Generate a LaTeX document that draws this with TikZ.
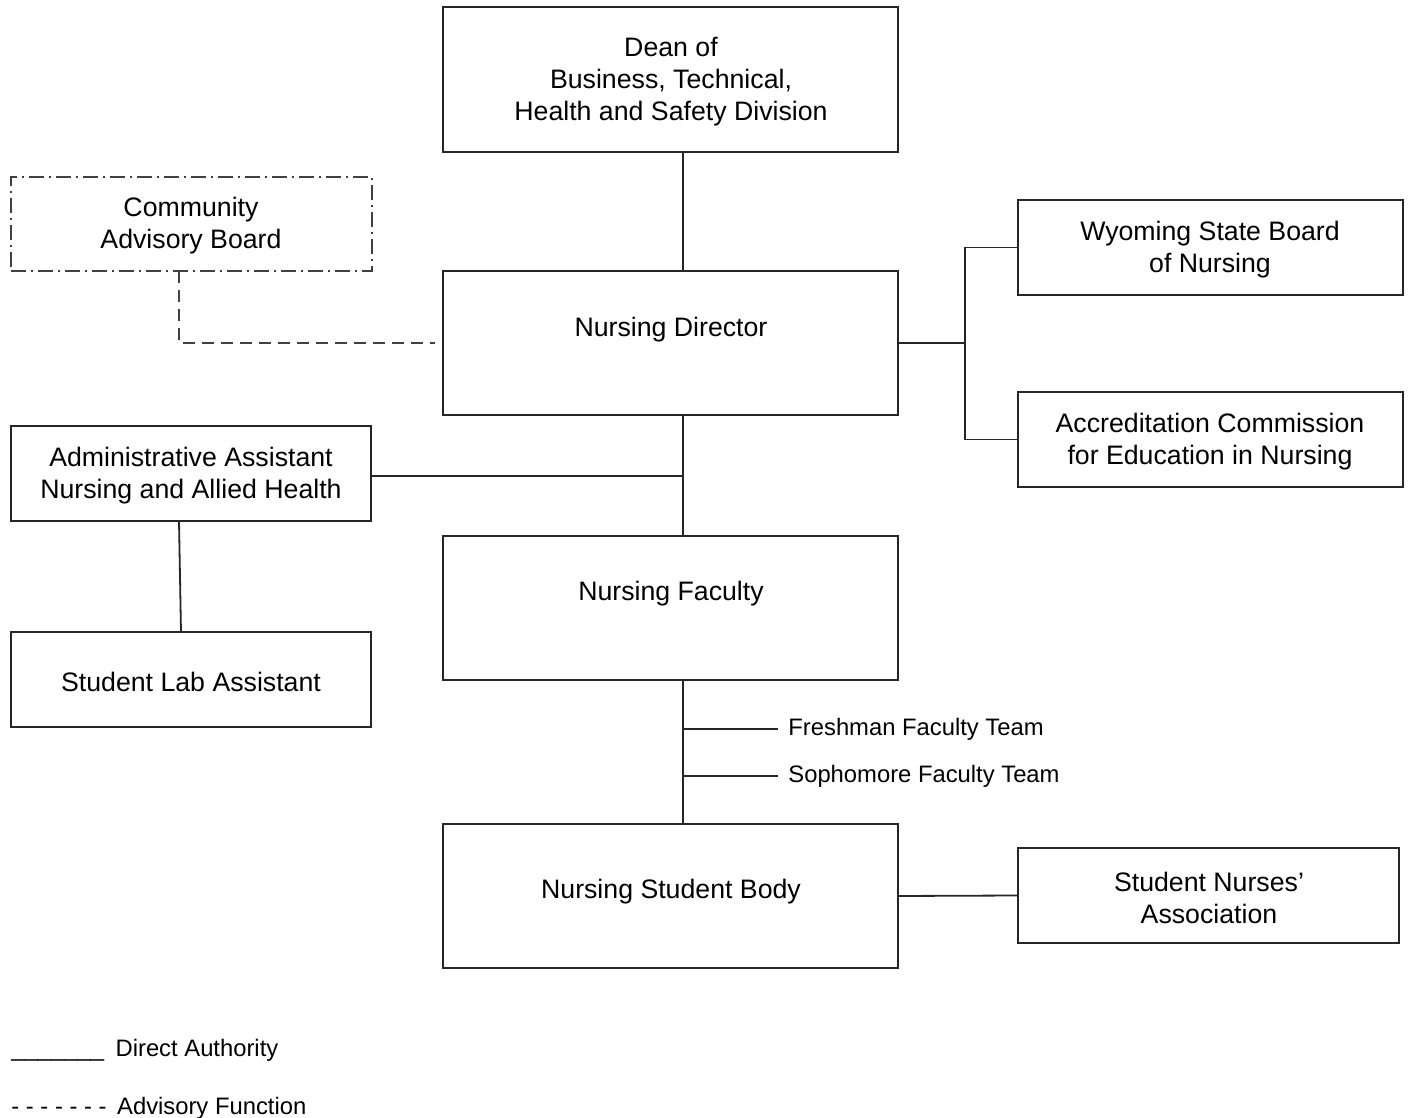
\documentclass[tikz,border=0pt]{standalone}
\usepackage{fontspec}
\setmainfont{Liberation Sans}
\begin{document}
\begin{tikzpicture}[x=0.5pt,y=-0.5pt,
  box/.style={draw=black!85, line width=0.8pt, inner sep=0pt, outer sep=0pt},
  txt/.style={align=center, inner sep=0pt, font=\fontsize{13.35pt}{16pt}\selectfont},
  small/.style={inner sep=0pt, font=\fontsize{11.9pt}{14pt}\selectfont},
  conn/.style={draw=black!85, line width=0.9pt},
  adv/.style={draw=black!75, line width=0.8pt, dash pattern=on 6pt off 3.5pt},
  advbox/.style={draw=black!75, line width=0.8pt, dash pattern=on 7.5pt off 2.5pt on 1pt off 2.5pt, inner sep=0pt, outer sep=0pt}]
\useasboundingbox[fill=white] (0,0) rectangle (1410,1118);

% boxes
\node[box, minimum width=227.5pt, minimum height=72.5pt] (dean) at (670.5,79.5) {};
\node[advbox, minimum width=180.5pt, minimum height=47pt] (community) at (191.5,224) {};
\node[box, minimum width=227.5pt, minimum height=72pt] (director) at (670.5,343) {};
\node[box, minimum width=192.5pt, minimum height=47.5pt] (wyoming) at (1210.5,247.5) {};
\node[box, minimum width=192.5pt, minimum height=47.5pt] (accred) at (1210.5,439.5) {};
\node[box, minimum width=180pt, minimum height=47.5pt] (admin) at (191,473.5) {};
\node[box, minimum width=180pt, minimum height=47.5pt] (lab) at (191,679.5) {};
\node[box, minimum width=227.5pt, minimum height=72pt] (faculty) at (670.5,608) {};
\node[box, minimum width=227.5pt, minimum height=72pt] (body) at (670.5,896) {};
\node[box, minimum width=190.5pt, minimum height=47.5pt] (nurses) at (1208.5,895.5) {};

% texts
\node[txt] (dean-t) at (671,82) {Dean of\\Business, Technical,\\Health and Safety Division};
\node[txt] (community-t) at (191,226) {Community\\Advisory Board};
\node[txt] (director-t) at (671,330) {Nursing Director};
\node[txt] (wyoming-t) at (1210,250) {Wyoming State Board\\of Nursing};
\node[txt] (accred-t) at (1210,442) {Accreditation Commission\\for Education in Nursing};
\node[txt] (admin-t) at (191,476) {Administrative Assistant\\Nursing and Allied Health};
\node[txt] (lab-t) at (191,682) {Student Lab Assistant};
\node[txt] (faculty-t) at (671,594) {Nursing Faculty};
\node[txt] (body-t) at (671,892) {Nursing Student Body};
\node[txt] (nurses-t) at (1209,898) {Student Nurses'\\Association};

% connectors
\coordinate (vx) at (683,0);
\coordinate (bx) at (965,0);
\coordinate (ay) at (0,476);
\draw[conn] (dean.south -| vx) -- (director.north -| vx);
\draw[conn] (director.east) -- (director.east -| bx);
\draw[conn] (wyoming.west) -- (wyoming.west -| bx) -- (accred.west -| bx) -- (accred.west);
\draw[conn] (director.south -| vx) -- (faculty.north -| vx);
\draw[conn] (admin.east |- ay) -- (vx |- ay);
\draw[conn] ([xshift=-6pt]admin.south) -- ([xshift=-5pt]lab.north);
\draw[conn] (faculty.south -| vx) -- (body.north -| vx);
\draw[conn] (body.east) -- (nurses.west);
\draw[adv] ([xshift=-6.25pt]community.south) |- ([xshift=-4pt]director.west);

% faculty teams
\node[small, anchor=west, inner xsep=5pt] (fresh) at (778,729) {Freshman Faculty Team};
\node[small, anchor=west, inner xsep=5pt] (soph) at (778,776) {Sophomore Faculty Team};
\draw[conn] (fresh.west -| vx) -- (fresh.west);
\draw[conn] (soph.west -| vx) -- (soph.west);

% legend
\node[small, anchor=base west] (leg1) at (11,1056) {\_\_\_\_\_\_\_\hspace{2.5pt} Direct Authority};
\node[small, anchor=base west] (leg2) at (11,1114) {- - - - - - -\hspace{2pt} Advisory Function};
\end{tikzpicture}
\end{document}
